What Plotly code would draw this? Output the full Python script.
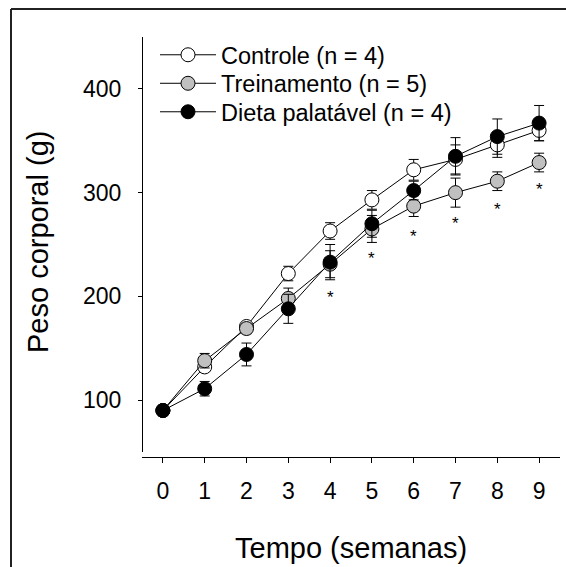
import plotly.graph_objects as go

semanas = [0, 1, 2, 3, 4, 5, 6, 7, 8, 9]
controle = [90, 132, 171, 222, 263, 293, 322, 332, 346, 360]
controle_err = [4, 4, 4, 7, 8, 9, 10, 14, 12, 10]
treinamento = [90, 138, 169, 198, 231, 265, 287, 300, 311, 329]
treinamento_err = [4, 7, 5, 10, 13, 13, 10, 14, 9, 9]
dieta = [90, 111, 144, 188, 233, 270, 302, 335, 354, 367]
dieta_err = [4, 7, 11, 14, 17, 13, 9, 18, 17, 17]
asterisco_x = [4, 5, 6, 7, 8, 9]
asterisco_y = [204, 241, 263, 275, 289, 308]
nomes = ["Controle (n = 4)", "Treinamento (n = 5)", "Dieta palatável (n = 4)"]
cores = ["white", "#c0c0c0", "black"]
legendas = ["legend", "legend2", "legend3"]

W, H = 566, 567
L, R, T, B = 142, 6, 37, 110
pw, ph = W - L - R, H - T - B

def px_x(p):
    return (p - L) / pw

def px_y(p):
    return (H - B - p) / ph

fig = go.Figure()
for y, e, nome, cor, lg in zip([controle, treinamento, dieta],
                               [controle_err, treinamento_err, dieta_err],
                               nomes, cores, legendas):
    fig.add_trace(go.Scatter(
        x=semanas, y=y, name=nome, mode="lines+markers", legend=lg,
        line=dict(color="black", width=1),
        marker=dict(size=14, color=cor, line=dict(color="black", width=1)),
        error_y=dict(type="data", array=e, color="black", thickness=1, width=5),
    ))

font = "Liberation Sans, Arial, sans-serif"
leg_common = dict(xanchor="left", yanchor="middle", bgcolor="rgba(0,0,0,0)",
                  font=dict(size=23.5), itemwidth=56, borderwidth=0)
layout_legs = {}
for lg, ypx in zip(legendas, [55, 83.5, 112]):
    layout_legs[lg] = dict(x=px_x(155), y=px_y(ypx), **leg_common)

annots = [
    dict(text="*", x=ax, y=ay, xref="x", yref="y", showarrow=False,
         yshift=-5, font=dict(size=17, color="black"))
    for ax, ay in zip(asterisco_x, asterisco_y)
]
annots += [
    dict(text="Tempo (semanas)", xref="paper", yref="paper",
         x=px_x(351), y=px_y(548), showarrow=False, font=dict(size=29),
         xanchor="center", yanchor="middle"),
    dict(text="Peso corporal (g)", xref="paper", yref="paper",
         x=px_x(38), y=px_y(242), showarrow=False, font=dict(size=29),
         textangle=-90, xanchor="center", yanchor="middle"),
]

fig.update_layout(
    width=W, height=H,
    margin=dict(l=L, r=R, t=T, b=B, autoexpand=False),
    paper_bgcolor="white", plot_bgcolor="white",
    font=dict(family=font, size=19, color="black"),
    showlegend=True,
    xaxis=dict(range=[-0.5, 9.5], domain=[0, 1], anchor="free", position=0,
               showline=True, linecolor="black", linewidth=1, showgrid=False,
               zeroline=False, ticks="outside", ticklen=5, tickcolor="black",
               tickvals=semanas, tickfont=dict(size=23), ticklabelstandoff=8),
    yaxis=dict(range=[50, 450], domain=[px_y(452), 1], anchor="free", position=0,
               showline=True, linecolor="black", linewidth=1, showgrid=False,
               zeroline=False, ticks="outside", ticklen=4, tickcolor="black",
               tickvals=[100, 200, 300, 400], tickfont=dict(size=23),
               ticklabelstandoff=12),
    annotations=annots,
    shapes=[
        dict(type="line", xref="paper", yref="paper", x0=px_x(11), x1=px_x(570),
             y0=px_y(9), y1=px_y(9), line=dict(color="#222", width=2)),
        dict(type="line", xref="paper", yref="paper", x0=px_x(11), x1=px_x(11),
             y0=px_y(9), y1=px_y(570), line=dict(color="#222", width=2)),
    ],
    **layout_legs,
)

fig.write_html("out.html")
